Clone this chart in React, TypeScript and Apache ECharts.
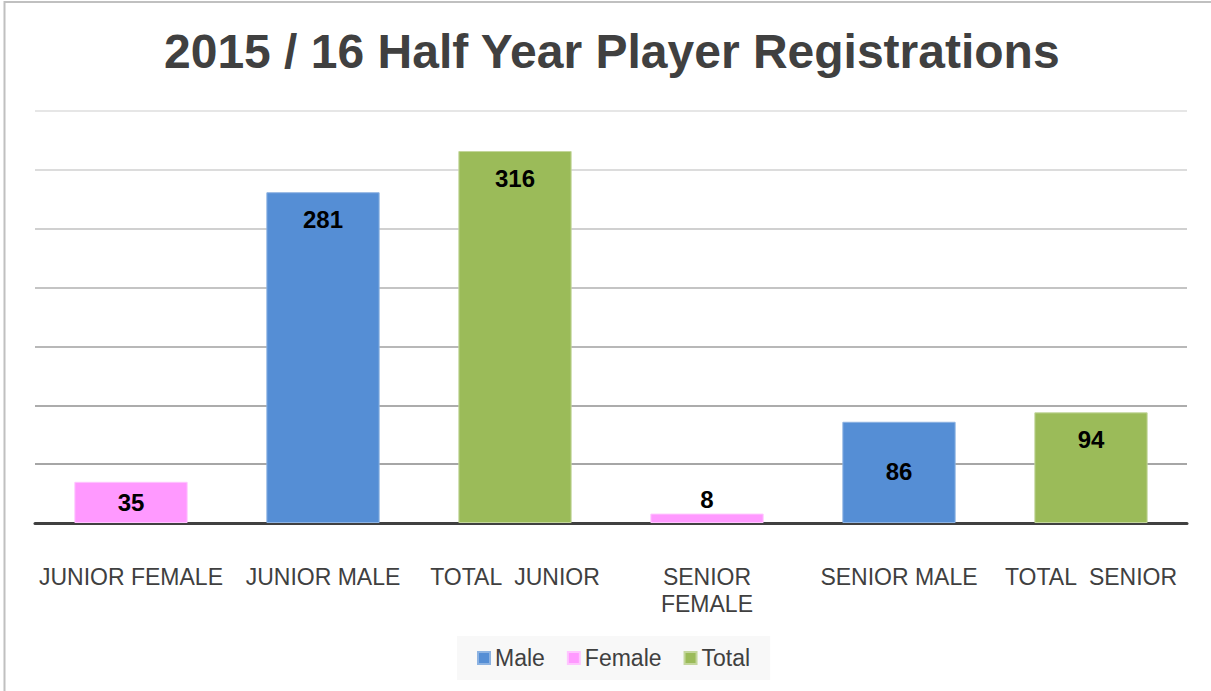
import React, { useEffect, useRef } from "react";
import * as echarts from "echarts";

const categories = ["JUNIOR FEMALE", "JUNIOR MALE", "TOTAL  JUNIOR", "SENIOR FEMALE", "SENIOR MALE", "TOTAL  SENIOR"];
const values = [35, 281, 316, 8, 86, 94];
const groups = ["Female", "Male", "Total", "Female", "Male", "Total"];
const seriesNames = ["Male", "Female", "Total"];
const seriesColors: Record<string, string> = { Male: "#558ED5", Female: "#FF99FF", Total: "#9BBB59" };
const seriesBorders: Record<string, string> = { Male: "#8DB3E2", Female: "#FFC5FF", Total: "#C3D69B" };
const titleText = "2015 / 16 Half Year Player Registrations";

const FONT = "'Liberation Sans', Arial, sans-serif";

function labelFor(cat: string, v: number) {
  if (v < 20) return { position: "top", distance: 2 };
  if (v < 50) return { position: "inside" };
  if (cat === "SENIOR MALE") return { position: "insideTop", distance: 38 };
  return { position: "insideTop", distance: 15 };
}

export default function App() {
  const ref = useRef<HTMLDivElement>(null);
  useEffect(() => {
    if (!ref.current) return;
    const chart = echarts.init(ref.current, undefined, { renderer: "svg" });
    const series = seriesNames.map((name) => ({
      name,
      type: "bar",
      stack: "all",
      barWidth: "59%",
      itemStyle: { color: seriesColors[name], borderColor: seriesBorders[name], borderWidth: 1 },
      data: values.map((v, i) =>
        groups[i] === name ? { value: v, label: labelFor(categories[i], v) } : "-"
      ),
      label: {
        show: true,
        fontFamily: FONT,
        fontSize: 24,
        fontWeight: "bold",
        color: "#000000",
      },
    }));
    chart.setOption({
      animation: false,
      backgroundColor: "#ffffff",
      title: {
        text: titleText,
        left: 164,
        top: 27,
        padding: 0,
        textStyle: { fontFamily: FONT, fontSize: 48, fontWeight: "bold", color: "#404040" },
      },
      legend: {
        data: seriesNames,
        bottom: 11,
        left: 457,
        padding: [10, 20],
        backgroundColor: "#F8F8F8",
        itemGap: 22,
        itemWidth: 12,
        itemHeight: 12,
        icon: "rect",
        textStyle: { fontFamily: FONT, fontSize: 23, color: "#404040", lineHeight: 24 },
      },
      grid: { left: 35, right: 24, top: 111, bottom: 168, containLabel: false },
      xAxis: {
        type: "category",
        data: categories,
        axisTick: { show: false },
        axisLine: { lineStyle: { color: "#404040", width: 3 } },
        axisLabel: {
          interval: 0,
          margin: 40,
          fontFamily: FONT,
          fontSize: 23,
          lineHeight: 27,
          color: "#404040",
          formatter: (v: string) => (v === "SENIOR FEMALE" ? "SENIOR\nFEMALE" : v),
        },
      },
      yAxis: {
        type: "value",
        min: 0,
        max: 350,
        interval: 50,
        axisLabel: { show: false },
        axisLine: { show: false },
        axisTick: { show: false },
        splitLine: {
          lineStyle: {
            width: 2,
            color: ["#9e9e9e", "#a6a6a6", "#acacac", "#b8b8b8", "#c4c4c4", "#d0d0d0", "#dcdcdc", "#e6e6e6"],
          },
        },
      },
      graphic: [
        {
          type: "polyline",
          shape: { points: [[4.5, 691], [4.5, 2], [1211, 2]] },
          style: { stroke: "#c0c0c0", lineWidth: 2, fill: null },
          silent: true,
        },
      ],
      series,
    });
    return () => chart.dispose();
  }, []);
  return (
    <div
      ref={ref}
      style={{ position: "absolute", left: 0, top: 0, width: 1211, height: 691 }}
    />
  );
}
